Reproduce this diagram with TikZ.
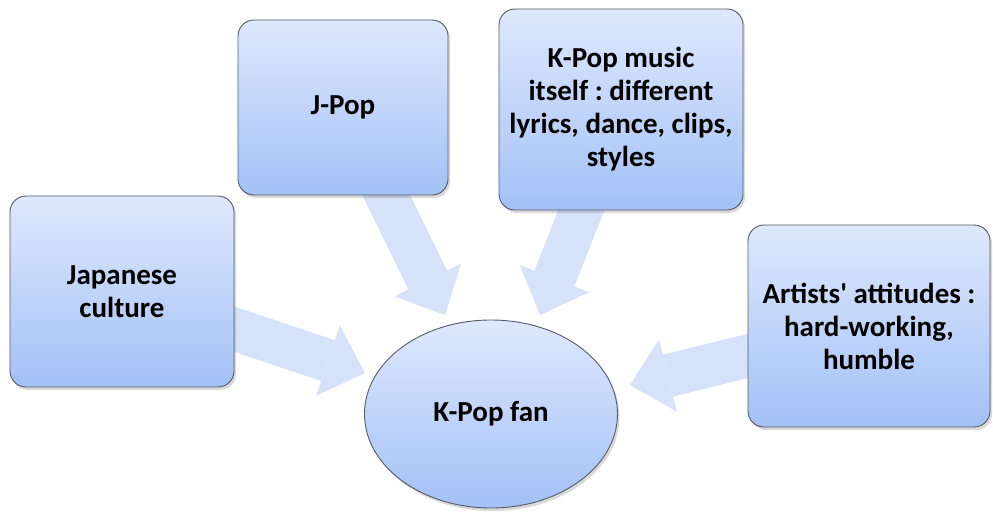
\documentclass[tikz,border=0pt]{standalone}
\usepackage{fontspec}
\setmainfont{Carlito}[Ligatures=TeXOff]
\usetikzlibrary{shadows,backgrounds,arrows.meta,shapes.geometric}
\definecolor{topc}{RGB}{222,232,252}
\definecolor{botc}{RGB}{163,193,246}
\definecolor{edgec}{RGB}{85,90,105}
\definecolor{arrc}{RGB}{214,226,250}
\frenchspacing
\begin{document}
\begin{tikzpicture}[x=1pt,y=-1pt,
  box/.style={draw=edgec, line width=0.9pt, rounded corners=16pt,
    top color=topc, bottom color=botc,
    drop shadow={opacity=0.3, shadow xshift=2pt, shadow yshift=-3pt},
    align=center, font=\fontsize{29}{33}\selectfont\bfseries\frenchspacing, inner sep=0pt},
  fanshape/.style={ellipse, draw=edgec, line width=0.9pt,
    top color=topc, bottom color=botc,
    drop shadow={opacity=0.3, shadow xshift=2pt, shadow yshift=-3pt},
    align=center, font=\fontsize{29}{33}\selectfont\bfseries, inner sep=0pt},
  flow/.style={arrc, line width=43pt,
    -{Triangle[length=39pt,width=74pt,line width=0.01pt]}}]
\useasboundingbox (0,0) rectangle (993,514);
\node[box, minimum width=224pt, minimum height=191pt] (jc) at (122,291.5) {Japanese\\culture};
\node[box, minimum width=210pt, minimum height=175pt] (jpop) at (343,107.5) {J-Pop};
\node[box, minimum width=244pt, minimum height=201pt] (km) at (621,109.5) {K-Pop music\\itself : different\\lyrics, dance, clips,\\styles};
\node[box, minimum width=242pt, minimum height=202pt] (art) at (869,326) {Artists' attitudes :\\hard-working,\\humble};
\node[fanshape, minimum width=253pt, minimum height=188pt] (fan) at (491,414) {K-Pop fan};
\coordinate (t1) at (365,373);
\coordinate (t2) at (445,315);
\coordinate (t3) at (540,315);
\coordinate (t4) at (630,385);
\begin{scope}[on background layer]
\draw[flow] (jc.center) -- (t1);
\draw[flow] (jpop.center) -- (t2);
\draw[flow] (km.center) -- (t3);
\draw[flow] (art.center) -- (t4);
\end{scope}
\end{tikzpicture}
\end{document}
